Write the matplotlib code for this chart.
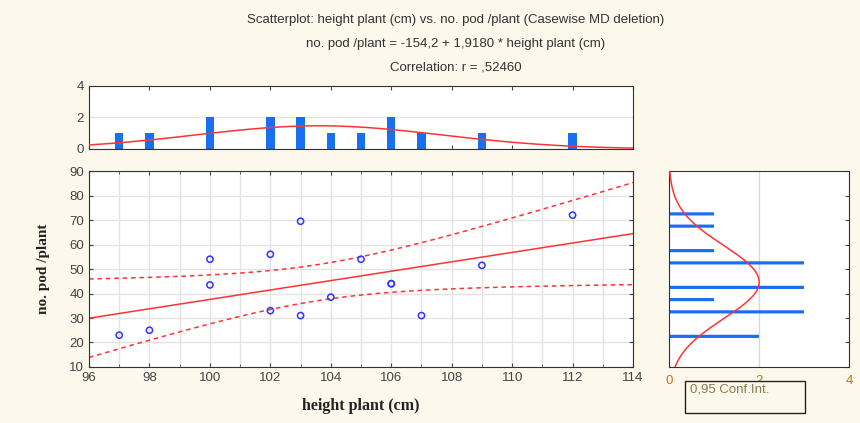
import numpy as np
import matplotlib
matplotlib.use('Agg')
import matplotlib.pyplot as plt
from matplotlib.patches import Rectangle

# data (15 cases, one repeated at 106/44)
height = np.array([97, 98, 100, 100, 102, 102, 103, 103, 104, 105, 106, 106, 107, 109, 112])
pods = np.array([23, 25, 54, 43.5, 56, 33, 69.5, 31, 38.5, 54, 44, 44, 31, 51.5, 72])

# histogram of pods/plant (right panel), bins of width 5
pod_bins = [22.5, 32.5, 37.5, 42.5, 52.5, 57.5, 67.5, 72.5]
pod_counts = [2, 3, 1, 3, 3, 1, 1, 1]

# histogram of height (top panel)
h_vals = [97, 98, 100, 102, 103, 104, 105, 106, 107, 109, 112]
h_counts = [1, 1, 2, 2, 2, 1, 1, 2, 1, 1, 1]

intercept, slope = -154.2, 1.9180
titles = ["Scatterplot: height plant (cm) vs. no. pod /plant (Casewise MD deletion)",
          "no. pod /plant = -154,2 + 1,9180 * height plant (cm)",
          "Correlation: r = ,52460"]

bg = '#fdf8ec'
red = '#ff3333'
blue = '#1a6ff0'
tickc = '#444444'
plt.rcParams['font.family'] = ['Liberation Sans', 'DejaVu Sans']

fig = plt.figure(figsize=(8.6, 4.23), dpi=100, facecolor=bg)

for i, t in enumerate(titles):
    fig.text(0.53, 1 - (20 + 24 * i) / 423, t, ha='center', va='center', fontsize=9.5, color='#333333')

# main scatter
ax = fig.add_axes([0.1035, 0.1324, 0.6326, 0.4633])
ax.set_xlim(96, 114)
ax.set_ylim(10, 90)
ax.set_xticks(np.arange(96, 115, 2))
ax.set_xticks(np.arange(96, 115, 1), minor=True)
ax.set_yticks(np.arange(10, 91, 10))
ax.grid(True, which='both', axis='x', color='#e4e4e4', lw=1)
ax.grid(True, which='major', axis='y', color='#e4e4e4', lw=1)
ax.set_axisbelow(True)
ax.tick_params(direction='in', colors=tickc, labelsize=9.5, top=True, right=True, length=3)
ax.tick_params(which='minor', direction='in', top=True, length=2, color=tickc)
for s in ax.spines.values():
    s.set_color('#333333')

xs = np.linspace(96, 114, 200)
ax.plot(xs, intercept + slope * xs, color=red, lw=1.1)
# 95% confidence band of the regression line
n = len(height)
xm = height.mean()
sxx = ((height - xm) ** 2).sum()
res = pods - (intercept + slope * height)
s = np.sqrt((res ** 2).sum() / (n - 2))
t = 2.160
band = t * s * np.sqrt(1 / n + (xs - xm) ** 2 / sxx)
ax.plot(xs, intercept + slope * xs + band, color=red, lw=1.1, ls=(0, (3, 2.5)))
ax.plot(xs, intercept + slope * xs - band, color=red, lw=1.1, ls=(0, (3, 2.5)))
ax.scatter(height, pods, s=20, facecolors='none', edgecolors='#3333ff', lw=1.1, zorder=3)
ax.set_xlabel('height plant (cm)', family='Liberation Serif', fontweight='bold', fontsize=11.5, color='#222222', labelpad=10)
ax.set_ylabel('no. pod /plant', family='Liberation Serif', fontweight='bold', fontsize=11, color='#222222', labelpad=14)

# top histogram of height
axt = fig.add_axes([0.1035, 0.6478, 0.6326, 0.149])
axt.set_xlim(96, 114)
axt.set_ylim(0, 4)
axt.set_yticks([0, 2, 4])
axt.set_xticks(np.arange(96, 115, 2))
axt.tick_params(axis='x', direction='in', top=True, bottom=True, labelbottom=False, length=3, color=tickc)
axt.tick_params(axis='y', direction='in', colors=tickc, labelsize=9.5, length=0)
axt.grid(True, axis='y', color='#e4e4e4', lw=1)
axt.set_axisbelow(True)
axt.bar(h_vals, h_counts, width=0.28, color=blue, zorder=2)
sd_h = height.std(ddof=1)
axt.plot(xs, n * 1.0 * np.exp(-0.5 * ((xs - xm) / sd_h) ** 2) / (sd_h * np.sqrt(2 * np.pi)),
         color=red, lw=1.1, zorder=3)
for sp in axt.spines.values():
    sp.set_color('#333333')

# right histogram of pods
axr = fig.add_axes([0.7779, 0.1324, 0.2093, 0.4633])
axr.set_xlim(0, 4)
axr.set_ylim(10, 90)
axr.set_xticks([0, 2, 4])
axr.set_yticks(np.arange(10, 91, 10))
axr.tick_params(axis='y', direction='in', left=False, right=True, labelleft=False, length=3, color=tickc)
axr.tick_params(axis='x', direction='in', length=0, colors='#c07020', labelsize=9.5, pad=6)
axr.grid(True, axis='x', color='#d8d8d8', lw=1)
axr.set_axisbelow(True)
axr.barh(pod_bins, pod_counts, height=1.3, color=blue, zorder=2, snap=False)
ys = np.linspace(10, 90, 200)
ym = pods.mean()
sd_y = pods.std(ddof=1)
axr.plot(n * 5 * np.exp(-0.5 * ((ys - ym) / sd_y) ** 2) / (sd_y * np.sqrt(2 * np.pi)), ys,
         color=red, lw=1.1, zorder=3)
for sp in axr.spines.values():
    sp.set_color('#333333')

# legend box, drawn over the "2" tick label as in the original
box = Rectangle((685 / 860, 1 - 413 / 423), 120 / 860, 32 / 423,
                transform=fig.transFigure, facecolor=bg, edgecolor='#222222', lw=1, zorder=5)
fig.add_artist(box)
fig.text(690 / 860, 1 - 389 / 423, '0,95 Conf.Int.', fontsize=9.5, color='#8a7a50', va='center', zorder=6)

fig.savefig('out.png', dpi=100, facecolor=bg)
